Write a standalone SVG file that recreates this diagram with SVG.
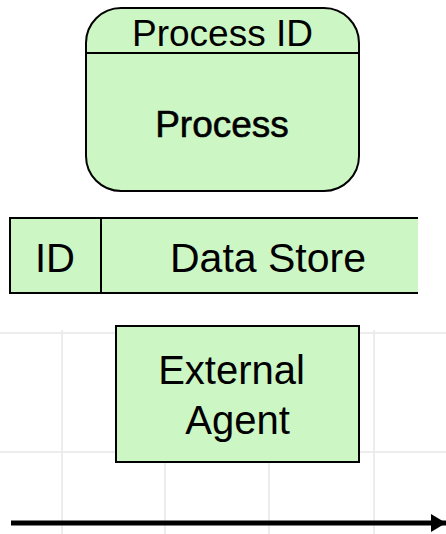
<svg xmlns="http://www.w3.org/2000/svg" width="446" height="534" viewBox="0 0 446 534">
  <defs>
    <style>
      .shape { fill: #ccf6c4; stroke: #000; stroke-width: 2; }
      .edge { stroke: #000; stroke-width: 2; fill: none; }
      .grid { stroke: #ececec; stroke-width: 2; fill: none; }
      .label { font-family: "Liberation Sans", Arial, sans-serif; fill: #000; text-anchor: middle; }
    </style>
    <marker id="arrowhead" markerWidth="15" markerHeight="18" refX="15" refY="9" orient="auto" markerUnits="userSpaceOnUse">
      <path d="M0,0 L15,9 L0,18 Z" fill="#000"/>
    </marker>
  </defs>

  <rect width="446" height="534" fill="#fff"/>

  <!-- faint background grid -->
  <g id="grid" class="grid">
    <line x1="0" y1="333" x2="446" y2="333"/>
    <line x1="0" y1="452" x2="446" y2="452"/>
    <line x1="62" y1="330" x2="62" y2="534"/>
    <line x1="165" y1="330" x2="165" y2="534"/>
    <line x1="269" y1="330" x2="269" y2="534"/>
    <line x1="374" y1="330" x2="374" y2="534"/>
  </g>

  <!-- process -->
  <g id="process">
    <rect class="shape" x="86" y="8" width="273" height="183" rx="35" ry="35"/>
    <line class="edge" x1="86" y1="53" x2="359" y2="53"/>
    <text class="label" x="222.5" y="46" font-size="37">Process ID</text>
    <text class="label" x="222" y="137" font-size="37" stroke="#000" stroke-width="0.6">Process</text>
  </g>

  <!-- data store (open on the right) -->
  <g id="data-store">
    <rect x="10" y="218" width="408" height="75" fill="#ccf6c4"/>
    <path class="edge" d="M418,218 H10 V293 H418"/>
    <line class="edge" x1="101" y1="218" x2="101" y2="293"/>
    <text class="label" x="55" y="272" font-size="40">ID</text>
    <text class="label" x="268" y="272" font-size="41">Data Store</text>
  </g>

  <!-- external agent -->
  <g id="external-agent">
    <rect class="shape" x="116" y="326" width="243" height="136"/>
    <text class="label" x="231.5" y="384" font-size="40">External</text>
    <text class="label" x="237.5" y="434" font-size="40">Agent</text>
  </g>

  <!-- data flow -->
  <g id="connectors">
    <line x1="11" y1="523" x2="446" y2="523" stroke="#000" stroke-width="5" marker-end="url(#arrowhead)"/>
  </g>
</svg>
